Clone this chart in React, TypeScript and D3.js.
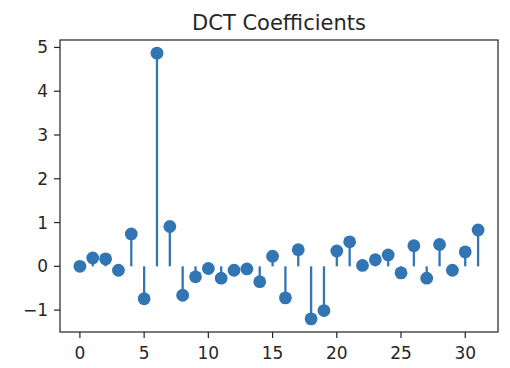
import React from 'react';
import * as d3 from 'd3';

const title = 'DCT Coefficients';
const indices = d3.range(32);
const coefficients = [
  0.0, 0.19, 0.17, -0.09, 0.74, -0.74, 4.87, 0.91,
  -0.66, -0.24, -0.05, -0.27, -0.09, -0.06, -0.35, 0.23,
  -0.72, 0.38, -1.2, -1.01, 0.35, 0.56, 0.02, 0.15,
  0.26, -0.15, 0.47, -0.27, 0.5, -0.09, 0.33, 0.83,
];
const xTicks = [0, 5, 10, 15, 20, 25, 30];
const yTicks = [-1, 0, 1, 2, 3, 4, 5];

export default function App() {
  const width = 510;
  const height = 368;
  const margin = { top: 40, right: 12, bottom: 36, left: 60 };
  const color = '#3176b3';

  const xScale = d3.scaleLinear()
    .domain([-1.55, 32.55])
    .range([margin.left, width - margin.right]);
  const yScale = d3.scaleLinear()
    .domain([-1.5, 5.17])
    .range([height - margin.bottom, margin.top]);

  const font = 'DejaVu Sans, sans-serif';
  const bottom = height - margin.bottom;

  return (
    <svg width={width} height={height} style={{ position: 'absolute', left: 0, top: 0 }}>
      <rect width={width} height={height} fill="white" />
      <text x={(margin.left + width - margin.right) / 2} y={30} textAnchor="middle"
        fontFamily={font} fontSize={21} fill="#262626">{title}</text>

      {/* stems */}
      {indices.map(i => (
        <line key={'s' + i} x1={xScale(i)} x2={xScale(i)} y1={yScale(0)} y2={yScale(coefficients[i])}
          stroke={color} strokeWidth={2.3} />
      ))}
      {indices.map(i => (
        <circle key={'m' + i} cx={xScale(i)} cy={yScale(coefficients[i])} r={6.4} fill={color} />
      ))}

      {/* frame */}
      <rect x={margin.left} y={margin.top} width={width - margin.left - margin.right}
        height={bottom - margin.top} fill="none" stroke="#222" strokeWidth={1.2} />

      {/* x axis */}
      {xTicks.map(t => (
        <g key={'x' + t} transform={`translate(${xScale(t)},${bottom})`}>
          <line y2={6} stroke="#222" strokeWidth={1.2} />
          <text y={27} textAnchor="middle" fontFamily={font} fontSize={17} fill="#262626">{t}</text>
        </g>
      ))}

      {/* y axis */}
      {yTicks.map(t => (
        <g key={'y' + t} transform={`translate(${margin.left},${yScale(t)})`}>
          <line x2={-6} stroke="#222" strokeWidth={1.2} />
          <text x={-12} dy="0.35em" textAnchor="end" fontFamily={font} fontSize={17} fill="#262626">
            {t < 0 ? '\u2212' + Math.abs(t) : t}
          </text>
        </g>
      ))}
    </svg>
  );
}
